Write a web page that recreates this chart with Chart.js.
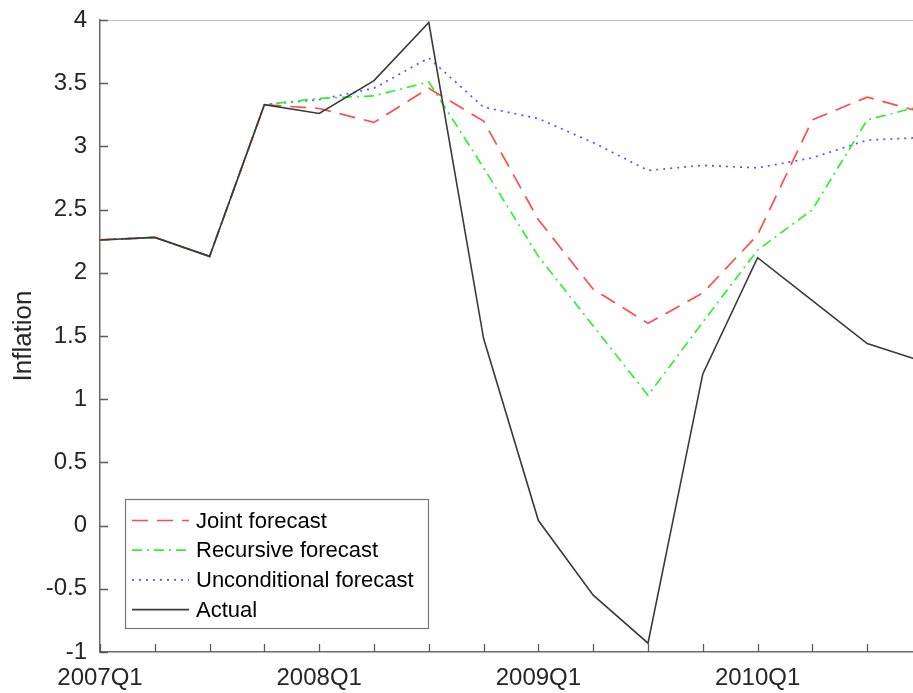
<!DOCTYPE html>
<html>
<head>
<meta charset="utf-8">
<script src="https://cdn.jsdelivr.net/npm/chart.js@4.4.1/dist/chart.umd.min.js"></script>
<style>
  html, body { margin: 0; padding: 0; background: #fff; overflow: hidden; }
  #wrap { position: absolute; left: 0; top: 0; width: 925px; height: 693px; }
</style>
</head>
<body>
<div id="wrap"><canvas id="c"></canvas></div>
<script>
const quarters = ['2007Q1','2007Q2','2007Q3','2007Q4','2008Q1','2008Q2','2008Q3','2008Q4',
                  '2009Q1','2009Q2','2009Q3','2009Q4','2010Q1','2010Q2','2010Q3','2010Q4'];
const labeledTicks = ['2007Q1','2008Q1','2009Q1','2010Q1'];
const jointForecast = [2.26, 2.28, 2.13, 3.33, 3.30, 3.19, 3.46, 3.20, 2.42, 1.87, 1.60, 1.84, 2.30, 3.21, 3.39, 3.27];
const recursiveForecast = [2.26, 2.28, 2.13, 3.33, 3.38, 3.40, 3.51, 2.83, 2.13, 1.58, 1.03, 1.61, 2.18, 2.50, 3.21, 3.32];
const unconditionalForecast = [2.26, 2.28, 2.13, 3.33, 3.37, 3.46, 3.70, 3.31, 3.22, 3.03, 2.81, 2.85, 2.83, 2.91, 3.05, 3.07];
const actual = [2.26, 2.28, 2.13, 3.33, 3.26, 3.52, 3.98, 1.48, 0.04, -0.55, -0.93, 1.20, 2.12, 1.78, 1.44, 1.30];
const seriesNames = ['Joint forecast', 'Recursive forecast', 'Unconditional forecast', 'Actual'];

const FONT = '"Liberation Sans", Arial, sans-serif';

const frameAndLegend = {
  id: 'frameAndLegend',
  afterDraw(chart) {
    const ctx = chart.ctx;
    const a = chart.chartArea;
    const xs = chart.scales.x, ys = chart.scales.y;
    ctx.save();
    ctx.strokeStyle = '#c4c4c4';
    ctx.lineWidth = 1.2;
    ctx.beginPath();
    ctx.moveTo(a.left, a.top + 0.5);
    ctx.lineTo(a.right, a.top + 0.5);
    ctx.lineTo(a.right, a.bottom);
    ctx.stroke();
    ctx.strokeStyle = '#5a5a5a';
    ctx.lineWidth = 1.3;
    ctx.beginPath();
    xs.ticks.forEach((t, i) => {
      const px = Math.round(xs.getPixelForTick(i)) + 0.5;
      ctx.moveTo(px, a.bottom);
      ctx.lineTo(px, a.bottom - 8);
    });
    ys.ticks.forEach((t, i) => {
      const py = Math.round(ys.getPixelForTick(i)) + 0.5;
      ctx.moveTo(a.left, py);
      ctx.lineTo(a.left + 8, py);
    });
    ctx.stroke();

    const bx = a.left + 25, bw = 303, bh = 129, by = a.bottom - 24 - bh;
    ctx.fillStyle = '#ffffff';
    ctx.fillRect(bx, by, bw, bh);
    ctx.strokeStyle = '#777777';
    ctx.lineWidth = 1.2;
    ctx.strokeRect(bx + 0.5, by + 0.5, bw, bh);
    const rowH = 29.7;
    ctx.font = '22px ' + FONT;
    ctx.textBaseline = 'middle';
    chart.data.datasets.forEach((ds, i) => {
      const y = by + 21.5 + i * rowH;
      ctx.strokeStyle = ds.borderColor;
      ctx.lineWidth = ds.borderWidth;
      ctx.setLineDash(ds.borderDash || []);
      ctx.beginPath();
      ctx.moveTo(bx + 7, y);
      ctx.lineTo(bx + 64, y);
      ctx.stroke();
      ctx.setLineDash([]);
      ctx.fillStyle = '#000000';
      ctx.fillText(ds.label, bx + 71, y + 1);
    });
    ctx.restore();
  }
};

new Chart(document.getElementById('c'), {
  type: 'line',
  data: {
    labels: quarters,
    datasets: [
      { label: seriesNames[0], data: jointForecast, borderColor: '#ff4d4d', borderWidth: 1.7, borderDash: [16, 9], order: 1 },
      { label: seriesNames[1], data: recursiveForecast, borderColor: '#33ee33', borderWidth: 1.7, borderDash: [10, 5, 2, 5], order: 2 },
      { label: seriesNames[2], data: unconditionalForecast, borderColor: '#5555ff', borderWidth: 1.7, borderDash: [2, 5], order: 3 },
      { label: seriesNames[3], data: actual, borderColor: '#3a3a3a', borderWidth: 1.6, order: 0 }
    ]
  },
  options: {
    responsive: true,
    maintainAspectRatio: false,
    animation: false,
    events: [],
    elements: { point: { radius: 0 }, line: { tension: 0, borderCapStyle: 'butt', borderJoinStyle: 'miter' } },
    layout: { padding: { top: 20, right: 3, left: 0, bottom: 0 } },
    plugins: { legend: { display: false }, tooltip: { enabled: false }, title: { display: false } },
    scales: {
      x: {
        type: 'category',
        offset: false,
        grid: { display: true, drawOnChartArea: false, drawTicks: false },
        border: { display: true, color: '#6a6a6a', width: 1.5 },
        ticks: {
          autoSkip: false, maxRotation: 0, padding: 12,
          color: '#262626', font: { family: FONT, size: 24 },
          callback: function(v, i) { const l = quarters[i]; return labeledTicks.includes(l) ? l : ''; }
        },
        afterFit: s => { s.height = 41; s.paddingLeft = 0; s.paddingRight = 0; }
      },
      y: {
        min: -1, max: 4,
        grid: { display: true, drawOnChartArea: false, drawTicks: false },
        border: { display: true, color: '#6a6a6a', width: 1.5 },
        ticks: {
          stepSize: 0.5, padding: 13,
          color: '#262626', font: { family: FONT, size: 24 },
          callback: v => String(Math.round(v * 10) / 10)
        },
        title: { display: true, text: 'Inflation', color: '#262626', font: { family: FONT, size: 26 }, padding: { top: 8, bottom: 0 } },
        afterFit: s => { s.width = 100; s.paddingTop = 0; s.paddingBottom = 0; }
      }
    }
  },
  plugins: [frameAndLegend]
});
</script>
</body>
</html>
